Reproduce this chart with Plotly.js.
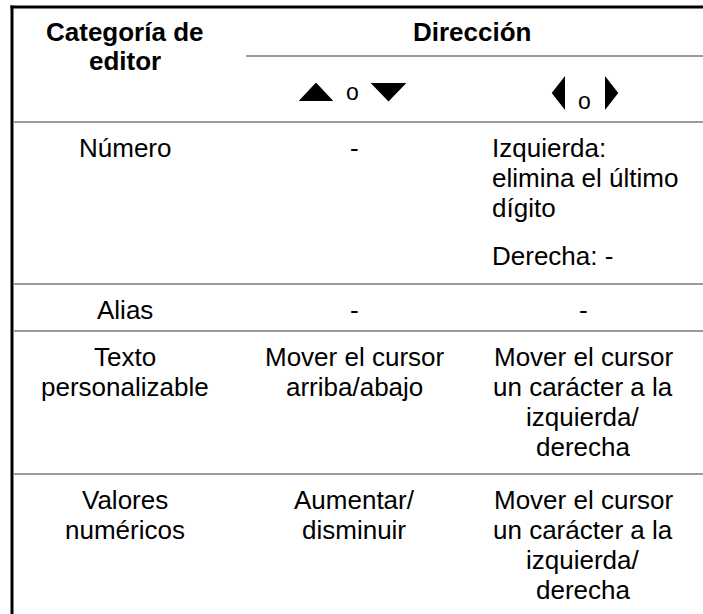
<!DOCTYPE html>
<html>
<head>
<meta charset="utf-8">
<script src="https://cdn.plot.ly/plotly-3.0.1.min.js"></script>
<style>html,body{margin:0;padding:0;background:#fff;}#chart{width:703px;height:614px;}</style>
</head>
<body>
<div id="chart"></div>
<script>
// ---- table content ----
const headerCategory = ["Categoría de", "editor"];
const headerDirection = "Dirección";
const keyUpDownSep = "o";
const keyLeftRightSep = "o";
const categories = [["Número"], ["Alias"], ["Texto", "personalizable"], ["Valores", "numéricos"]];
const upDownValues = [["-"], ["-"], ["Mover el cursor", "arriba/abajo"], ["Aumentar/", "disminuir"]];
const leftRightValues = [
  [["Izquierda:", "elimina el último", "dígito"], ["Derecha: -"]],
  [["-"]],
  [["Mover el cursor", "un carácter a la", "izquierda/", "derecha"]],
  [["Mover el cursor", "un carácter a la", "izquierda/", "derecha"]]
];
const leftAlignedRows = [0];

// ---- layout geometry (pixels) ----
const W = 703, H = 614;
const borderX = 12, borderTop = 7;
const colBounds = [borderX, 246, 482, W];
const colCenters = [125, 354, 583];
const subLineY = 56;
const rowTops = [122, 284, 331, 474];
const lineH = 30;
const firstPad = 26;
const paraGap = 18;
const fontFam = "Liberation Sans, Arial, sans-serif";
const fs = 26;

const ann = [];
function addText(txt, x, y, opts) {
  opts = opts || {};
  ann.push({
    text: txt, x: x, y: y, xref: 'x', yref: 'y', showarrow: false,
    xanchor: opts.anchor || 'center', yanchor: 'middle',
    font: {family: fontFam, size: opts.size || fs, color: '#000'}
  });
}

// header
headerCategory.forEach((t, i) => addText('<b>' + t + '</b>', colCenters[0], 32 + i * 29));
addText('<b>' + headerDirection + '</b>', (colBounds[1] + colBounds[3]) / 2 - 2, 32);
addText(keyUpDownSep, colCenters[1] - 2, 92, {size: 23});
addText(keyLeftRightSep, colCenters[2] + 1, 101, {size: 23});

// body rows
categories.forEach((lines, r) => {
  const y0 = rowTops[r] + firstPad;
  lines.forEach((t, i) => addText(t, colCenters[0], y0 + i * lineH));
  upDownValues[r].forEach((t, i) => addText(t, colCenters[1], y0 + i * lineH));
  let y = y0;
  const left = leftAlignedRows.indexOf(r) >= 0;
  leftRightValues[r].forEach((para, p) => {
    if (p > 0) y += paraGap;
    para.forEach((t) => {
      if (left) addText(t, colBounds[2] + 8, y, {anchor: 'left'});
      else addText(t, colCenters[2], y);
      y += lineH;
    });
  });
});

// lines
const shapes = [];
const gray = '#9b9b9b';
shapes.push({type: 'line', xref: 'x', yref: 'y', x0: borderX - 1.5, x1: W, y0: borderTop, y1: borderTop, line: {color: '#000', width: 3}});
shapes.push({type: 'line', xref: 'x', yref: 'y', x0: borderX, x1: borderX, y0: borderTop - 1.5, y1: H, line: {color: '#000', width: 3}});
shapes.push({type: 'line', xref: 'x', yref: 'y', x0: colBounds[1], x1: W, y0: subLineY, y1: subLineY, line: {color: gray, width: 2}});
rowTops.forEach((y) => shapes.push({type: 'line', xref: 'x', yref: 'y', x0: borderX + 1.5, x1: W, y0: y, y1: y, line: {color: gray, width: 2}}));

// key icons
function tri(pts) {
  return {type: 'path', xref: 'x', yref: 'y', path: 'M' + pts.map(p => p.join(',')).join(' L') + ' Z',
    fillcolor: '#000', line: {color: '#000', width: 2}};
}
const c1 = colCenters[1];
shapes.push(tri([[c1 - 53, 100], [c1 - 23, 100], [c1 - 38, 84]]));
shapes.push(tri([[c1 + 19, 84], [c1 + 50, 84], [c1 + 34.5, 100]]));
const c2 = colCenters[2];
shapes.push(tri([[c2 - 19, 79], [c2 - 19, 107], [c2 - 30, 93]]));
shapes.push(tri([[c2 + 23, 79], [c2 + 23, 107], [c2 + 34, 93]]));

const data = [{x: [0, W], y: [0, H], mode: 'markers', marker: {opacity: 0}, hoverinfo: 'skip', showlegend: false}];
const layout = {
  width: W, height: H, margin: {l: 0, r: 0, t: 0, b: 0},
  paper_bgcolor: '#fff', plot_bgcolor: '#fff',
  xaxis: {range: [0, W], visible: false, fixedrange: true},
  yaxis: {range: [H, 0], visible: false, fixedrange: true},
  annotations: ann, shapes: shapes, showlegend: false
};
Plotly.newPlot('chart', data, layout, {staticPlot: true, displayModeBar: false});
</script>
</body>
</html>
